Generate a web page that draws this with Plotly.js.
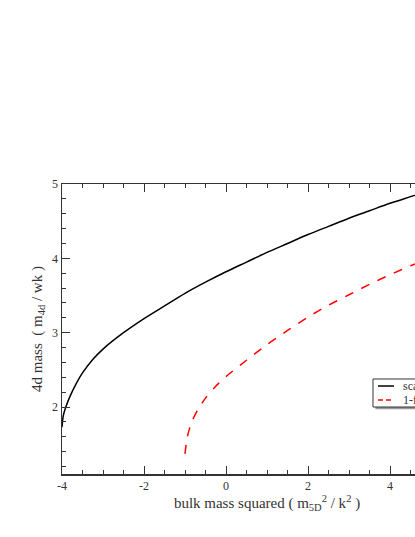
<!DOCTYPE html>
<html>
<head>
<meta charset="utf-8">
<script src="https://cdn.plot.ly/plotly-3.0.1.min.js"></script>
<style>
  body { margin: 0; overflow: hidden; background: #fff; }
</style>
</head>
<body>
<div id="plot"></div>
<script>
// bulk mass squared (m5D^2/k^2) and 4d mass (m4d/wk)
const scalarX = [-4, -3.97, -3.9, -3.8, -3.65, -3.5, -3.25, -3, -2.5, -2, -1.5, -1, -0.5, 0, 0.5, 1, 1.5, 2, 2.5, 3, 3.5, 4, 4.5, 5];
const scalarY = [1.73, 1.88, 2.01, 2.15, 2.32, 2.46, 2.64, 2.78, 3.0, 3.19, 3.36, 3.53, 3.68, 3.82, 3.95, 4.08, 4.20, 4.32, 4.43, 4.54, 4.64, 4.74, 4.83, 4.92];

const formX = [-1, -0.95, -0.85, -0.7, -0.5, -0.25, 0, 0.5, 1, 1.5, 2, 2.5, 3, 3.5, 4, 4.5, 5];
const formY = [1.37, 1.58, 1.78, 1.95, 2.12, 2.28, 2.41, 2.63, 2.84, 3.03, 3.21, 3.37, 3.51, 3.65, 3.78, 3.90, 4.01];

const seriesNames = ["scalar", "1-form"];
const seriesColors = ["#000000", "#ff0000"];
const seriesDash = ["solid", "dash"];

const xTicks = [-4, -2, 0, 2, 4];
const yTicks = [2, 3, 4, 5];

const serif = "Liberation Serif, Times New Roman, serif";
const ink = "#333333";

const traces = [
  {
    x: scalarX, y: scalarY, type: "scatter", mode: "lines",
    name: seriesNames[0],
    line: { color: seriesColors[0], width: 1.5, shape: "spline", smoothing: 0.8 },
  },
  {
    x: formX, y: formY, type: "scatter", mode: "lines",
    name: seriesNames[1],
    line: { color: seriesColors[1], width: 1.5, dash: seriesDash[1], shape: "spline", smoothing: 0.8 },
  },
];

const axisCommon = {
  showgrid: false,
  zeroline: false,
  showline: true,
  linecolor: ink,
  linewidth: 1.5,
  mirror: "allticks",
  ticks: "inside",
  ticklen: 8,
  tickwidth: 1,
  tickcolor: ink,
  tickfont: { family: serif, size: 12, color: ink },
};

// hand-drawn xmgrace style legend (box with shadow, short samples)
const box = { x0: 0.7585, x1: 0.995, y0: 0.231, y1: 0.3276 };
const rowY = [0.3034, 0.2552];
const legendShapes = [
  { type: "rect", xref: "paper", yref: "paper", x0: box.x0 + 0.006, x1: box.x1 + 0.006, y0: box.y0 - 0.008, y1: box.y1 - 0.008,
    fillcolor: "#999999", line: { width: 0 } },
  { type: "rect", xref: "paper", yref: "paper", x0: box.x0, x1: box.x1, y0: box.y0, y1: box.y1,
    fillcolor: "#ffffff", line: { color: ink, width: 1 } },
];
const legendNotes = [];
seriesNames.forEach((name, i) => {
  legendShapes.push({
    type: "line", xref: "paper", yref: "paper",
    x0: 0.7707, x1: 0.8098, y0: rowY[i], y1: rowY[i],
    line: { color: seriesColors[i], width: 1.5, dash: seriesDash[i] === "dash" ? "5px,3px" : "solid" },
  });
  legendNotes.push({
    xref: "paper", yref: "paper", x: 0.827, y: rowY[i],
    xanchor: "left", yanchor: "middle", showarrow: false,
    text: name, font: { family: serif, size: 12, color: ink },
  });
});

Plotly.newPlot("plot", traces, {
  width: 520,
  height: 537,
  margin: { l: 62, r: 48, t: 184, b: 63 },
  paper_bgcolor: "#ffffff",
  plot_bgcolor: "#ffffff",
  font: { family: serif, color: ink },
  showlegend: false,
  xaxis: Object.assign({}, axisCommon, {
    range: [-4, 6],
    tickvals: xTicks,
    ticktext: xTicks.map(String),
    minor: { ticks: "inside", ticklen: 4, dtick: 0.5, tick0: 0, tickcolor: ink },
    title: {
      text: "bulk mass squared ( m<sub>5D</sub><sup>2</sup> / k<sup>2</sup> )",
      font: { family: serif, size: 15, color: ink },
      standoff: 4,
    },
  }),
  yaxis: Object.assign({}, axisCommon, {
    range: [1.1, 5],
    tickvals: yTicks,
    ticktext: yTicks.map(String),
    minor: { ticks: "inside", ticklen: 4, dtick: 0.2, tick0: 0, tickcolor: ink },
    title: {
      text: "4d mass  ( m<sub>4d</sub> / wk )",
      font: { family: serif, size: 15, color: ink },
      standoff: 6,
    },
  }),
  shapes: legendShapes,
  annotations: legendNotes,
}, { displayModeBar: false, staticPlot: true });
</script>
</body>
</html>
